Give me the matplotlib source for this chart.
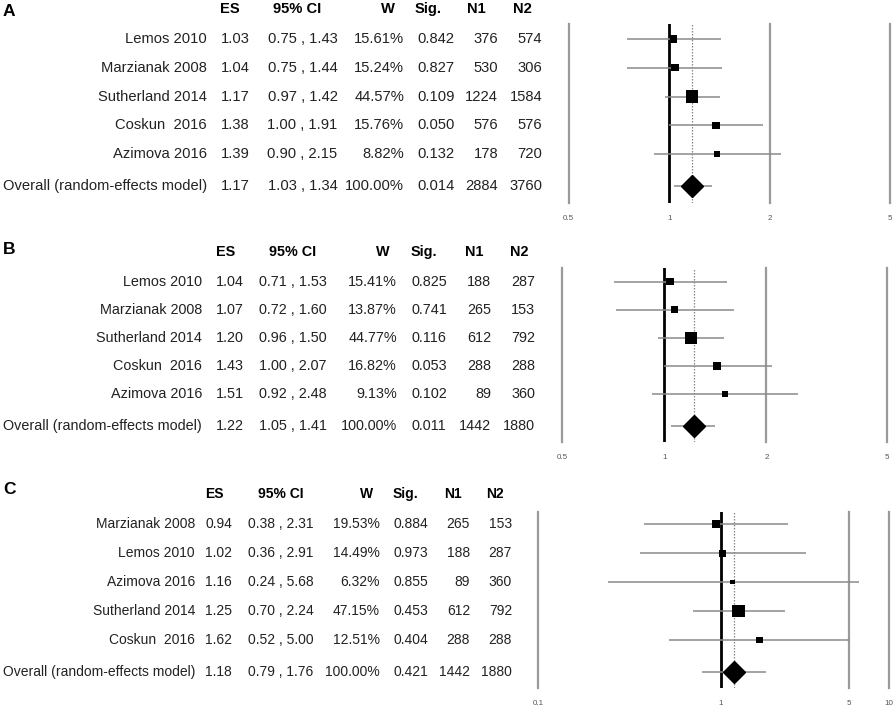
import matplotlib
matplotlib.use("Agg")
import numpy as np
import matplotlib.pyplot as plt
from matplotlib.transforms import blended_transform_factory
from matplotlib.ticker import NullLocator

plt.rcParams['font.family'] = ['Liberation Sans', 'DejaVu Sans']

W, H = 896, 709

# ---- data ----
studies_a = ["Lemos 2010", "Marzianak 2008", "Sutherland 2014", "Coskun  2016", "Azimova 2016"]
es_a = [1.03, 1.04, 1.17, 1.38, 1.39]
lo_a = [0.75, 0.75, 0.97, 1.00, 0.90]
hi_a = [1.43, 1.44, 1.42, 1.91, 2.15]
w_a = [15.61, 15.24, 44.57, 15.76, 8.82]
sig_a = [0.842, 0.827, 0.109, 0.050, 0.132]
n1_a = [376, 530, 1224, 576, 178]
n2_a = [574, 306, 1584, 576, 720]
overall_a = dict(es=1.17, lo=1.03, hi=1.34, w=100.00, sig=0.014, n1=2884, n2=3760)

studies_b = ["Lemos 2010", "Marzianak 2008", "Sutherland 2014", "Coskun  2016", "Azimova 2016"]
es_b = [1.04, 1.07, 1.20, 1.43, 1.51]
lo_b = [0.71, 0.72, 0.96, 1.00, 0.92]
hi_b = [1.53, 1.60, 1.50, 2.07, 2.48]
w_b = [15.41, 13.87, 44.77, 16.82, 9.13]
sig_b = [0.825, 0.741, 0.116, 0.053, 0.102]
n1_b = [188, 265, 612, 288, 89]
n2_b = [287, 153, 792, 288, 360]
overall_b = dict(es=1.22, lo=1.05, hi=1.41, w=100.00, sig=0.011, n1=1442, n2=1880)

studies_c = ["Marzianak 2008", "Lemos 2010", "Azimova 2016", "Sutherland 2014", "Coskun  2016"]
es_c = [0.94, 1.02, 1.16, 1.25, 1.62]
lo_c = [0.38, 0.36, 0.24, 0.70, 0.52]
hi_c = [2.31, 2.91, 5.68, 2.24, 5.00]
w_c = [19.53, 14.49, 6.32, 47.15, 12.51]
sig_c = [0.884, 0.973, 0.855, 0.453, 0.404]
n1_c = [265, 188, 89, 612, 288]
n2_c = [153, 287, 360, 792, 288]
overall_c = dict(es=1.18, lo=0.79, hi=1.76, w=100.00, sig=0.421, n1=1442, n2=1880)

ticks_a = ["0.5", "1", "2", "5"]
ticks_b = ["0.5", "1", "2", "5"]
ticks_c = ["0.1", "1", "5", "10"]

fig = plt.figure(figsize=(W / 100, H / 100), dpi=100, facecolor='white')

TXT = '#222222'
GRAY = '#9a9a9a'
CI_GRAY = '#8a8a8a'


def forest(panel, letter, studies, es, lo, hi, w, sig, n1, n2, ov, ticks,
           box, xlim, tickvals, row0, rowh, cols, heads, fsize):
    x0, x1, ytop, ybot = box
    ax = fig.add_axes([x0 / W, 1 - ybot / H, (x1 - x0) / W, (ybot - ytop) / H])
    ax.set_xscale('log')
    ax.set_xlim(*xlim)
    y_over = 5.12
    ax.set_ylim((ybot - row0) / rowh, (ytop - row0) / rowh)
    for s in ax.spines.values():
        s.set_visible(False)
    ax.set_yticks([])
    ax.xaxis.set_minor_locator(NullLocator())
    ax.set_xticks(tickvals)
    ax.set_xticklabels(ticks)
    ax.tick_params(axis='x', length=0, labelsize=5.8, labelcolor='#555555', pad=8.5)

    for v in tickvals:
        if v == 1:
            continue
        ax.axvline(v, color=GRAY, lw=1.6, clip_on=False, zorder=1)
    ax.axvline(1, color='black', lw=2.0, zorder=2)
    ax.axvline(ov['es'], color='#888888', lw=0.9, ls=(0, (1.2, 1.2)), zorder=1)

    ys = np.arange(len(studies))
    ax.hlines(ys, lo, hi, color=CI_GRAY, lw=1.1, zorder=3)
    ax.scatter(es, ys, marker='s', s=1.83 * np.array(w), color='black', lw=0, zorder=4)
    ax.hlines(y_over, ov['lo'], ov['hi'], color=CI_GRAY, lw=1.1, zorder=3)
    ax.plot([ov['es']], [y_over], marker='D', ms=11, color='black', zorder=4)

    # table
    tr = blended_transform_factory(fig.transFigure, ax.transData)
    xn, xes, xci, xw, xsig, xn1, xn2 = [c / W for c in cols]
    hes, hci, hw, hsig, hn1, hn2 = [c / W for c in heads]
    yh = -1.05
    kw = dict(transform=tr, fontsize=fsize, color='black', fontweight='bold', va='center')
    ax.text(hes, yh, "ES", ha='left', **kw)
    ax.text(hci, yh, "95% CI", ha='center', **kw)
    ax.text(hw, yh, "W", ha='right', **kw)
    ax.text(hsig, yh, "Sig.", ha='left', **kw)
    ax.text(hn1, yh, "N1", ha='left', **kw)
    ax.text(hn2, yh, "N2", ha='left', **kw)

    rows = list(zip(studies, es, lo, hi, w, sig, n1, n2, ys))
    rows.append(("Overall (random-effects model)", ov['es'], ov['lo'], ov['hi'],
                 ov['w'], ov['sig'], ov['n1'], ov['n2'], y_over))
    kw = dict(transform=tr, fontsize=fsize, color=TXT, va='center')
    for name, e, l, h, ww, p, a, b, y in rows:
        ax.text(xn, y, name, ha='right', **kw)
        ax.text(xes, y, f"{e:.2f}", ha='left', **kw)
        ax.text(xci, y, f"{l:.2f} , {h:.2f}", ha='center', **kw)
        ax.text(xw, y, f"{ww:.2f}%", ha='right', **kw)
        ax.text(xsig, y, f"{p:.3f}", ha='left', **kw)
        ax.text(xn1, y, f"{a}", ha='right', **kw)
        ax.text(xn2, y, f"{b}", ha='right', **kw)

    fig.text(3 / W, 1 - letter / H, panel, fontsize=12.5, fontweight='bold',
             ha='left', va='center', color='black')


forest("A", 11, studies_a, es_a, lo_a, hi_a, w_a, sig_a, n1_a, n2_a, overall_a, ticks_a,
       box=(568.5, 890, 23.5, 203), xlim=(0.5, 4.56), tickvals=[0.5, 1, 2, 4.56],
       row0=39, rowh=28.8,
       cols=(207, 221, 302.5, 404, 417, 498, 542),
       heads=(220, 297.5, 395, 415, 467, 513), fsize=10.65)

forest("B", 249, studies_b, es_b, lo_b, hi_b, w_b, sig_b, n1_b, n2_b, overall_b, ticks_b,
       box=(562, 887, 268, 441.7), xlim=(0.5, 4.53), tickvals=[0.5, 1, 2, 4.53],
       row0=281.7, rowh=28.1,
       cols=(202, 216, 293, 397, 411, 491, 535),
       heads=(216, 293, 390, 411, 465, 510), fsize=10.4)

forest("C", 489.5, studies_c, es_c, lo_c, hi_c, w_c, sig_c, n1_c, n2_c, overall_c, ticks_c,
       box=(538, 889, 511.7, 688.3), xlim=(0.1, 8.28), tickvals=[0.1, 1, 5, 8.28],
       row0=524.3, rowh=28.9,
       cols=(195, 205, 280.5, 380, 393, 470, 512),
       heads=(205, 280.5, 373, 393, 444, 486), fsize=10.0)

fig.savefig("out.png", dpi=100, facecolor='white')
